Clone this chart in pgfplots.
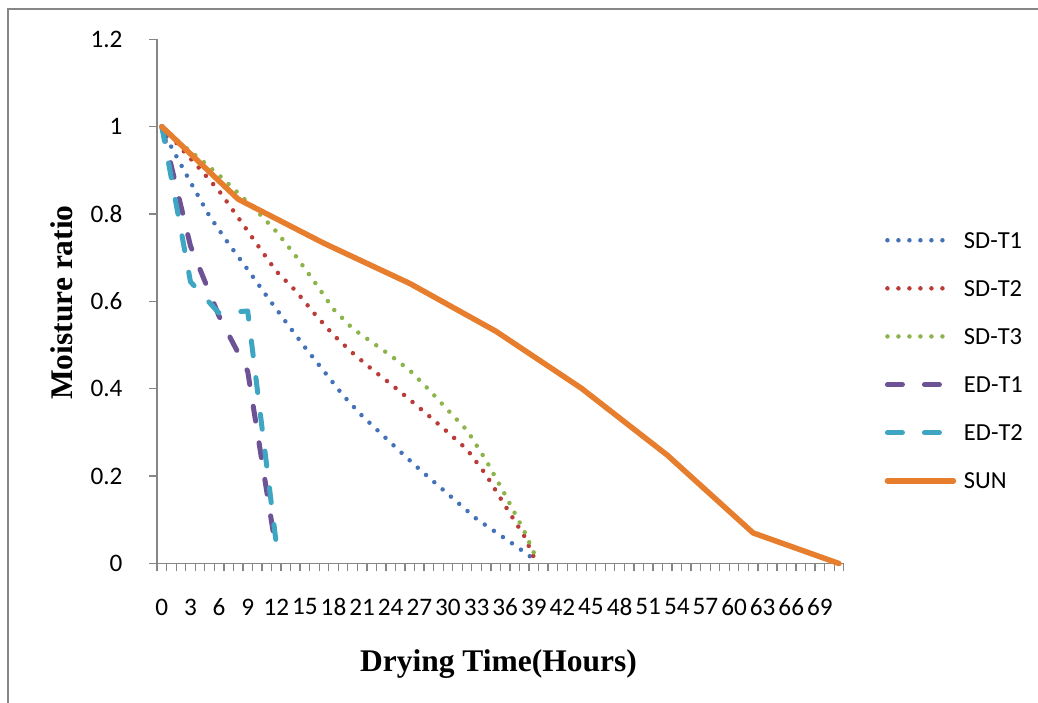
\documentclass[border=0pt]{standalone}
\usepackage{fontspec}
\setmainfont{Liberation Serif}
\newfontfamily\calibri{Carlito}
\usepackage{pgfplots}
\pgfplotsset{compat=1.18}

\definecolor{sdone}{RGB}{68,114,184}
\definecolor{sdtwo}{RGB}{185,60,55}
\definecolor{sdthree}{RGB}{140,180,75}
\definecolor{edone}{RGB}{110,82,150}
\definecolor{edtwo}{RGB}{62,165,195}
\definecolor{sun}{RGB}{230,126,46}
\definecolor{axgray}{RGB}{134,134,134}

\pgfplotsset{
  dotline/.style={line width=4.5pt, line cap=round, dash pattern=on 0pt off 11pt},
  dashline/.style={line width=5pt, line cap=round, line join=round, dash pattern=on 15pt off 22pt},
}

\begin{document}
\begin{tikzpicture}[x=1pt,y=1pt]
\useasboundingbox (0,0) rectangle (1038,703);
\draw[axgray, line width=1.6pt] (8,-20) -- (8,694) -- (1100,694);
\begin{axis}[
  at={(157.1pt,139.5pt)}, anchor=south west,
  scale only axis, width=686.6pt, height=524.2pt,
  xmin=-0.5, xmax=71.5, ymin=0, ymax=1.2,
  clip=false,
  axis lines*=left,
  axis line style={axgray, line width=1.5pt},
  tick align=outside,
  xtick={0,3,...,69},
  minor xtick={-0.5,0.5,...,71.5},
  ytick={0,0.2,...,1.2},
  major tick length=8pt, minor tick length=8pt,
  tick style={axgray, line width=1.3pt},
  major x tick style={draw=none},
  /pgf/number format/assume math mode=true,
  ticklabel style={font=\calibri\fontsize{25.2}{30}\selectfont, inner sep=0pt},
  xticklabel style={anchor=north, yshift=-27pt},
  yticklabel style={anchor=east, xshift=-26.4pt, /pgf/number format/fixed, /pgf/number format/precision=1},
  xlabel={Drying Time(Hours)},
  ylabel={Moisture ratio},
  label style={font=\bfseries\fontsize{31.5}{36}\selectfont, inner sep=0pt},
  xlabel style={at={(axis description cs:0.4972,-0.2064)}, anchor=base},
  ylabel style={at={(axis description cs:-0.1385,0.4979)}, anchor=center},
  legend style={at={(1.0594,0.6629)}, anchor=north west, draw=none, fill=none,
    inner sep=0pt, row sep=0pt, column sep=7.8pt,
    font=\calibri\fontsize{24.5}{29}\selectfont,
    nodes={inner sep=0pt, text height=31.8pt, text depth=16.3pt}},
  legend cell align=left,
  legend image code/.code={\draw[#1] (0pt,0pt) -- (66pt,0pt);},
]

\addplot[sdone, dotline] coordinates {
  (0,1.0) (1,0.953) (3,0.873) (5,0.795) (7,0.732) (9,0.673) (11,0.612)
  (13,0.553) (15,0.495) (17,0.440) (19,0.385) (21,0.338) (23,0.297)
  (25,0.256) (27,0.216) (29,0.178) (31,0.140) (33,0.102) (35,0.072)
  (37,0.042) (39,0.010)
};
\addlegendentry{SD-T1}

\addplot[sdtwo, dotline] coordinates {
  (0,1.0) (2,0.951) (4,0.903) (6,0.853) (8,0.792) (10,0.730) (12,0.669)
  (14,0.625) (16,0.572) (18,0.523) (20,0.482) (22,0.445) (24,0.411)
  (26,0.375) (28,0.338) (30,0.300) (32,0.261) (34,0.203) (36,0.132)
  (38,0.063) (39,0.015)
};
\addlegendentry{SD-T2}

\addplot[sdthree, dotline] coordinates {
  (0,1.0) (2,0.961) (4,0.926) (6,0.889) (8,0.848) (10,0.806) (12,0.760)
  (14,0.705) (16,0.645) (18,0.582) (20,0.538) (22,0.507) (24,0.476)
  (26,0.442) (28,0.398) (30,0.351) (32,0.305) (34,0.236) (36,0.157)
  (38,0.074) (39,0.025)
};
\addlegendentry{SD-T3}

\addplot[edone, dashline] coordinates {
  (0,1.0) (3,0.727) (6,0.566) (9,0.440) (12,0.027)
};
\addlegendentry{ED-T1}

\addplot[edtwo, dashline] coordinates {
  (0,1.0) (3,0.645) (6,0.573) (9,0.578) (12,0.045)
};
\addlegendentry{ED-T2}

\addplot[sun, line width=5.5pt, line cap=round, line join=round] coordinates {
  (0,1.0) (8,0.834) (17,0.733) (26,0.641) (35,0.532) (44,0.401)
  (53,0.248) (62,0.070) (71,0.0)
};
\addlegendentry{SUN}

\end{axis}
\end{tikzpicture}
\end{document}
